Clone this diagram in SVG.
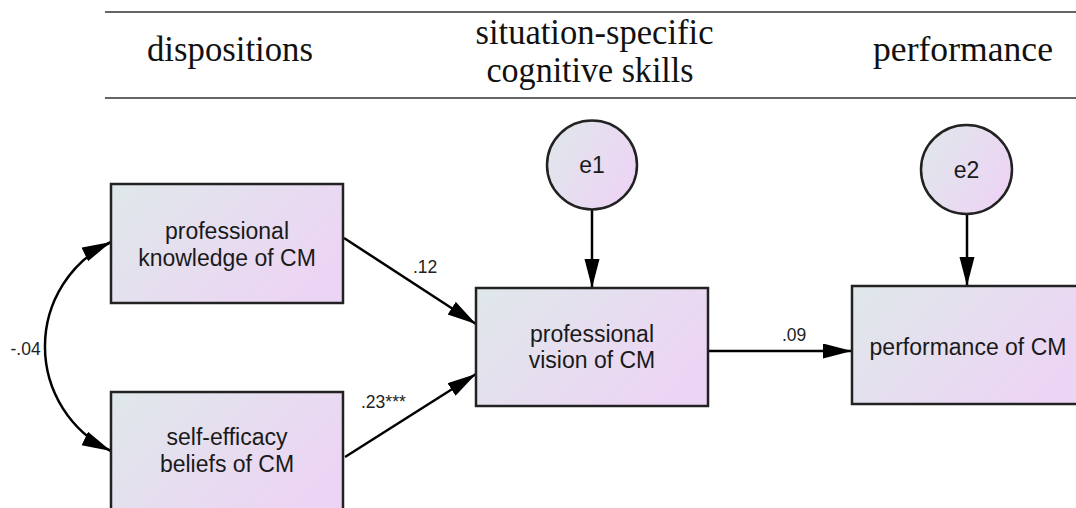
<svg xmlns="http://www.w3.org/2000/svg" width="1076" height="508" viewBox="0 0 1076 508">
<style>
.hdr{font-family:"Liberation Serif","Times New Roman",serif;font-size:36px;fill:#111;text-anchor:middle}
.rule{stroke:#666;stroke-width:2}
.node{fill:url(#g);stroke:#222;stroke-width:2.5}
.nt{font-family:"Liberation Sans",Arial,sans-serif;font-size:23px;fill:#1a1a1a;text-anchor:middle}
.lbl{font-family:"Liberation Sans",Arial,sans-serif;font-size:17.5px;fill:#222}
.edge{fill:none;stroke:#000;stroke-width:2.5}
</style>
<defs>
<linearGradient id="g" x1="0" y1="0" x2="1" y2="0.5">
<stop offset="0" stop-color="#dfe8ea"/>
<stop offset="1" stop-color="#ecd5f4"/>
</linearGradient>
<marker id="ah" markerUnits="userSpaceOnUse" markerWidth="30" markerHeight="16" refX="29" refY="7.5" orient="auto-start-reverse">
<path d="M0,0 L29,7.5 L0,15 z" fill="#000"/>
</marker>
</defs>
<rect width="1076" height="508" fill="#fff"/>
<g id="header">
<line class="rule" x1="105" y1="12" x2="1076" y2="12"/>
<line class="rule" x1="105" y1="98" x2="1076" y2="98"/>
<text class="hdr" x="230" y="61" textLength="166" lengthAdjust="spacingAndGlyphs">dispositions</text>
<text class="hdr" x="594.5" y="44" textLength="238" lengthAdjust="spacingAndGlyphs">situation-specific</text>
<text class="hdr" x="590" y="82" textLength="207" lengthAdjust="spacingAndGlyphs">cognitive skills</text>
<text class="hdr" x="963" y="61" textLength="180" lengthAdjust="spacingAndGlyphs">performance</text>
</g>
<g id="connectors">
<path class="edge" d="M111,242 A115.7,115.7 0 0 0 111,451" marker-start="url(#ah)" marker-end="url(#ah)"/>
<line class="edge" x1="344" y1="238" x2="476" y2="324" marker-end="url(#ah)"/>
<line class="edge" x1="345" y1="457" x2="476" y2="374" marker-end="url(#ah)"/>
<line class="edge" x1="592" y1="209.5" x2="592" y2="288" marker-end="url(#ah)"/>
<line class="edge" x1="967" y1="214" x2="967" y2="286" marker-end="url(#ah)"/>
<line class="edge" x1="708" y1="351" x2="852" y2="351" marker-end="url(#ah)"/>
<text class="lbl" x="10.5" y="355">-.04</text>
<text class="lbl" x="413" y="273">.12</text>
<text class="lbl" x="361" y="407.5">.23***</text>
<text class="lbl" x="782" y="340.5">.09</text>
</g>
<g id="knowledge">
<rect class="node" x="111" y="184" width="232" height="119"/>
<text class="nt" x="227" y="239">professional</text>
<text class="nt" x="227" y="265.5">knowledge of CM</text>
</g>
<g id="selfefficacy">
<rect class="node" x="111" y="392" width="232" height="119"/>
<text class="nt" x="227" y="445">self-efficacy</text>
<text class="nt" x="227" y="471.5">beliefs of CM</text>
</g>
<g id="vision">
<rect class="node" x="476" y="288" width="232" height="118"/>
<text class="nt" x="592" y="341.5">professional</text>
<text class="nt" x="592" y="368">vision of CM</text>
</g>
<g id="performance">
<rect class="node" x="852" y="286" width="232" height="118"/>
<text class="nt" x="968" y="355">performance of CM</text>
</g>
<g id="e1">
<ellipse class="node" cx="592" cy="165" rx="45" ry="44.5"/>
<text class="nt" x="592" y="172.5">e1</text>
</g>
<g id="e2">
<ellipse class="node" cx="966.5" cy="169.5" rx="45.5" ry="44.5"/>
<text class="nt" x="966.5" y="178">e2</text>
</g>
</svg>
